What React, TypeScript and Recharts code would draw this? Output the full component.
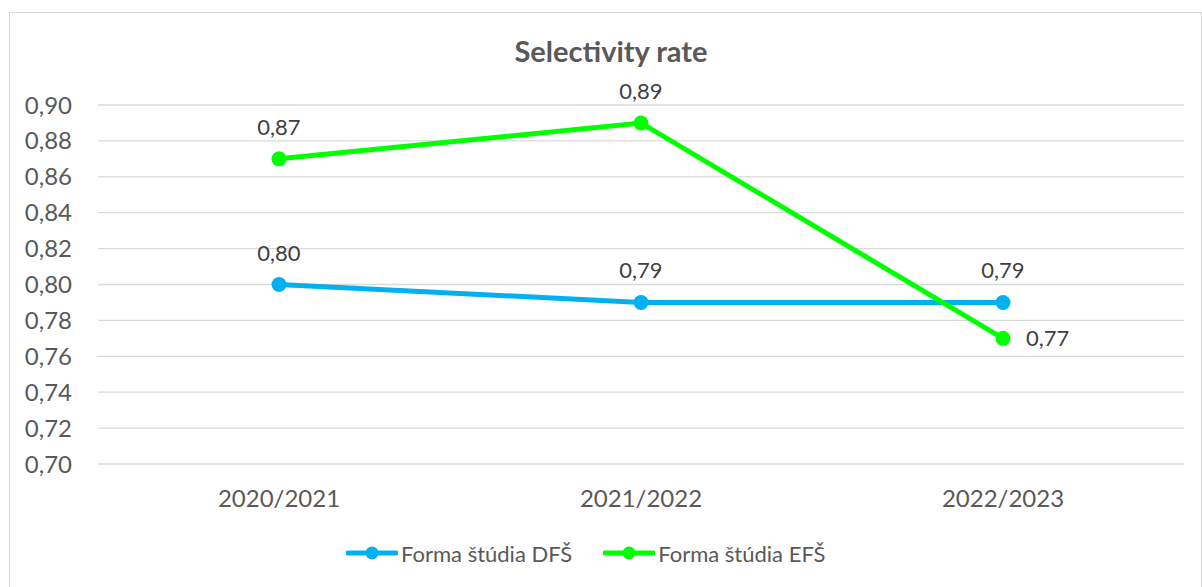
import React from 'react';
import { LineChart, Line, XAxis, YAxis, CartesianGrid, Legend, LabelList } from 'recharts';

const years = ['2020/2021', '2021/2022', '2022/2023'];
const dfsValues = [0.8, 0.79, 0.79];
const efsValues = [0.87, 0.89, 0.77];
const yTicks = [0.7, 0.72, 0.74, 0.76, 0.78, 0.8, 0.82, 0.84, 0.86, 0.88, 0.9];

const data = years.map((year, i) => ({ year, dfs: dfsValues[i], efs: efsValues[i] }));

const BLUE = '#00b0f0';
const GREEN = '#00ff00';
const FONT = 'Lato, "Open Sans", sans-serif';

const fmt = (v: number) => Number(v).toFixed(2).replace('.', ',');

// labels sit above the point, except the ones listed as "right"
const makeLabel = (rightIndex: number) => (props: any) => {
  const x = props.viewBox?.x ?? props.x;
  const y = props.viewBox?.y ?? props.y;
  const common = { fontFamily: FONT, fontSize: 22, fill: '#404040' };
  if (props.index === rightIndex) {
    return (
      <text x={x + 23} y={y} dy="0.35em" textAnchor="start" {...common}>
        {fmt(props.value)}
      </text>
    );
  }
  return (
    <text x={x} y={y - 24} textAnchor="middle" {...common}>
      {fmt(props.value)}
    </text>
  );
};

const legendItems = [
  { name: 'Forma štúdia DFŠ', color: BLUE },
  { name: 'Forma štúdia EFŠ', color: GREEN },
];

const LegendContent = () => (
  <div style={{ display: 'flex', alignItems: 'center', height: 30, paddingLeft: 336, fontFamily: FONT, fontSize: 22, color: '#595959' }}>
    {legendItems.map((it, i) => (
      <div key={it.name} style={{ display: 'flex', alignItems: 'center', marginRight: i === 0 ? 31 : 0 }}>
        <svg width={52} height={16} style={{ marginRight: 3 }}>
          <line x1={2} y1={8} x2={50} y2={8} stroke={it.color} strokeWidth={5} strokeLinecap="round" />
          <circle cx={26} cy={8} r={6.5} fill={it.color} />
        </svg>
        <span>{it.name}</span>
      </div>
    ))}
  </div>
);

export default function App() {
  return (
    <div style={{ position: 'absolute', left: 0, top: 0, width: 1202, height: 587, overflow: 'hidden', background: '#fff' }}>
      <div style={{ position: 'absolute', left: 9, top: 12, width: 1191, height: 574, border: '1px solid #d9d9d9', background: '#fff' }}>
        <div style={{ position: 'absolute', left: 0, top: 21, width: 1202, textAlign: 'center', fontFamily: FONT, fontSize: 29, fontWeight: 700, color: '#595959', lineHeight: 1.2 }}>
          Selectivity rate
        </div>
        <LineChart width={1191} height={573} data={data} margin={{ top: 92, right: 17, bottom: 18, left: 0 }}>
          <CartesianGrid horizontal vertical={false} stroke="#d9d9d9" strokeWidth={1.3} />
          <XAxis
            dataKey="year"
            padding={{ left: 181, right: 181 }}
            axisLine={false}
            tickLine={false}
            tickMargin={20}
            height={74}
            tick={{ fontFamily: FONT, fontSize: 24, fill: '#595959' }}
          />
          <YAxis
            domain={[0.7, 0.9]}
            ticks={yTicks}
            tickFormatter={fmt}
            axisLine={false}
            tickLine={false}
            tickMargin={20}
            width={88}
            tick={{ fontFamily: FONT, fontSize: 24, fill: '#595959' }}
          />
          <Legend verticalAlign="bottom" content={LegendContent} />
          <Line
            type="linear"
            dataKey="dfs"
            name="Forma štúdia DFŠ"
            stroke={BLUE}
            strokeWidth={5}
            dot={{ r: 7.5, fill: BLUE, stroke: 'none' }}
            activeDot={false}
            isAnimationActive={false}
          >
            <LabelList dataKey="dfs" content={makeLabel(-1)} />
          </Line>
          <Line
            type="linear"
            dataKey="efs"
            name="Forma štúdia EFŠ"
            stroke={GREEN}
            strokeWidth={5}
            dot={{ r: 7.5, fill: GREEN, stroke: 'none' }}
            activeDot={false}
            isAnimationActive={false}
          >
            <LabelList dataKey="efs" content={makeLabel(2)} />
          </Line>
        </LineChart>
      </div>
    </div>
  );
}
